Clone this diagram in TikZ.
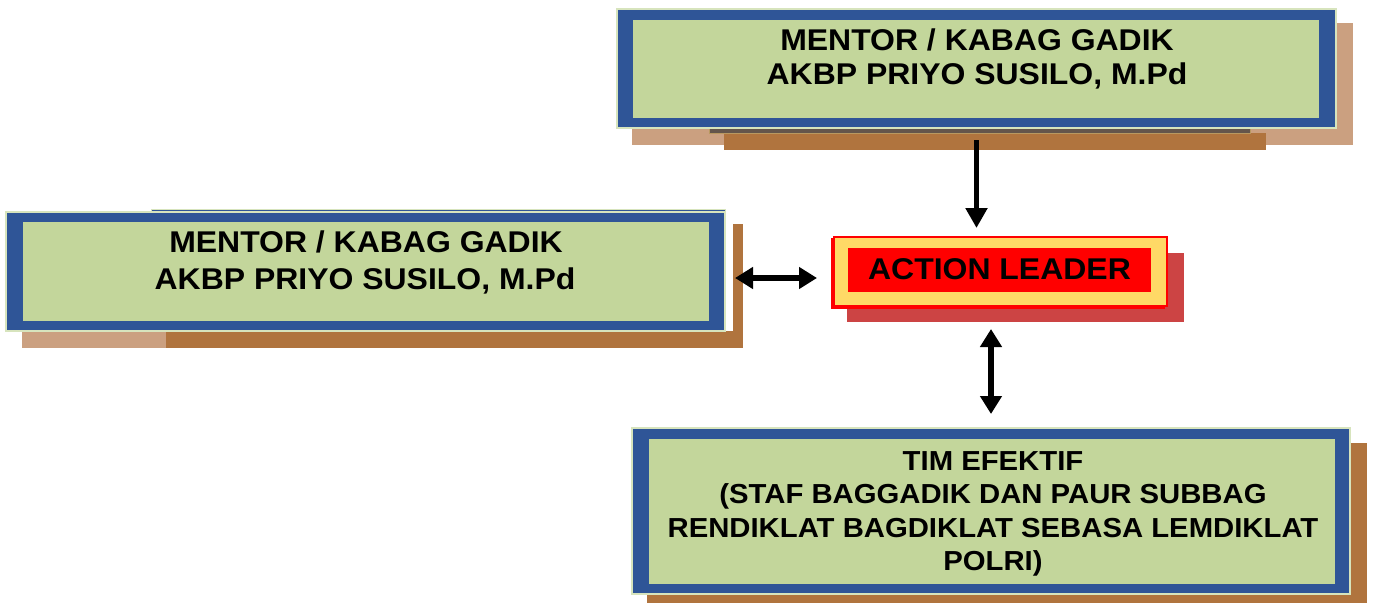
\documentclass[tikz,border=0pt]{standalone}
\usepackage{fontspec}
\setmainfont{Liberation Sans}
\newfontfamily\widefont[FakeStretch=1.065]{Liberation Sans}
\usetikzlibrary{arrows.meta,calc}
\definecolor{frameblue}{RGB}{47,85,151}
\definecolor{boxgreen}{RGB}{195,214,155}
\definecolor{edgegreen}{RGB}{215,228,189}
\definecolor{shtan}{RGB}{203,160,128}
\definecolor{shbrown}{RGB}{176,116,62}
\definecolor{shgray}{RGB}{100,85,75}
\definecolor{shgrayedge}{RGB}{184,152,96}
\definecolor{alshadow}{RGB}{204,68,68}
\definecolor{alyellow}{RGB}{255,217,102}
\definecolor{alred}{RGB}{255,0,0}
\begin{document}
\begin{tikzpicture}[x=1pt,y=-1pt,
  bx/.style 2 args={rectangle, inner sep=0pt, outer sep=0pt, minimum width=#1pt, minimum height=#2pt},
  outerbox/.style={fill=frameblue, draw=edgegreen, line width=1.5pt},
  innerbox/.style={fill=boxgreen},
  tanfill/.style={fill=shtan},
  brownfill/.style={fill=shbrown},
  ylbox/.style={fill=alyellow, draw=alred, line width=1.5pt},
  txtw/.style={font=\widefont\bfseries\fontsize{30}{36}\selectfont, inner sep=0pt, anchor=base, text=black},
  txtb/.style={font=\widefont\bfseries\fontsize{27.5}{33}\selectfont, inner sep=0pt, anchor=base, text=black},
  txtal/.style={font=\widefont\bfseries\fontsize{30}{36}\selectfont, inner sep=0pt, anchor=base, text=black},
  arr/.style={line width=5.5pt, -{Triangle[length=20pt,width=21pt]}},
  darr/.style={line width=5.5pt, {Triangle[length=18pt,width=21pt]}-{Triangle[length=18pt,width=21pt]}}]
\useasboundingbox (0,0) rectangle (1374,603);

% ---------- top box ----------
\node[bx={721}{122}, tanfill] (toptan) at (992.5,84) {};
\node[bx={542}{17}, brownfill] (topbrown) at (995,141.5) {};
\node[bx={541}{5}, fill=shgray, draw=shgrayedge, line width=0.8pt] (topgray) at (979.5,130.5) {};
\node[bx={719}{119}, outerbox] (top) at (976.5,68.5) {};
\node[bx={686}{98}, innerbox] (topin) at (976,69) {};
\node[txtw] (topa) at (977,50.7) {MENTOR / KABAG GADIK};
\node[txtw] (topb) at (977,84.5) {AKBP PRIYO SUSILO, M.Pd};

% ---------- left box ----------
\node[bx={144}{17}, tanfill] (lefttan) at (94,339.5) {};
\node[bx={577}{17}, brownfill] (leftbrownb) at (454.5,339.5) {};
\node[bx={10}{124}, brownfill] (leftbrownr) at (738,286) {};
\node[bx={574}{51}, outerbox, line width=1pt] (leftback) at (438,234.5) {};
\node[bx={719}{119}, outerbox] (left) at (365.5,271.5) {};
\node[bx={686}{99}, innerbox] (leftin) at (366,271.5) {};
\node[txtw] (lefta) at (366,252.3) {MENTOR / KABAG GADIK};
\node[txtw] (leftb) at (365,289.5) {AKBP PRIYO SUSILO, M.Pd};

% ---------- action leader ----------
\node[bx={337}{69}, fill=alshadow] (alsh) at (1015.5,287.5) {};
\node[bx={332}{69}, ylbox] (alb) at (998,273.5) {};
\node[bx={333}{69}, ylbox] (ala) at (1000.5,271.5) {};
\node[bx={303}{44}, fill=alred] (alin) at (999.5,270) {};
\node[txtal] (altext) at (999.5,279) {ACTION LEADER};

% ---------- bottom box ----------
\node[bx={720}{160}, brownfill] (botsh) at (1007,523) {};
\node[bx={718}{166}, outerbox] (bot) at (991,511) {};
\node[bx={686}{145}, innerbox] (botin) at (992,511.5) {};
\node[txtb] (bota) at (993,470) {TIM EFEKTIF};
\node[txtb] (botb) at (993,503) {(STAF BAGGADIK DAN PAUR SUBBAG};
\node[txtb] (botc) at (993,537) {RENDIKLAT BAGDIKLAT SEBASA LEMDIKLAT};
\node[txtb] (botd) at (993,570) {POLRI)};

% ---------- connectors ----------
\draw[arr, shorten <=12pt, shorten >=9pt] (top.south) -- (top.south |- ala.north);
\draw[darr, shorten <=10pt, shorten >=15pt] ([yshift=-6.5pt]left.east) -- ([yshift=-6.5pt]left.east -| alb.west);
\draw[darr, shorten <=14pt, shorten >=7pt] (bot.north) -- (bot.north |- alsh.south);
\end{tikzpicture}
\end{document}
